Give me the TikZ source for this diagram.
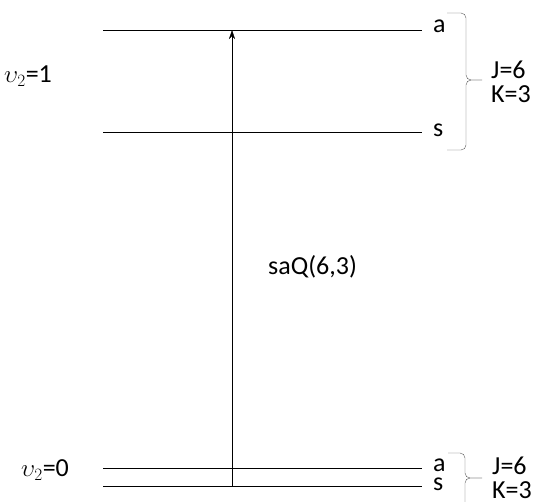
\documentclass[tikz,border=0pt]{standalone}
\usepackage{fontspec}
\setmainfont{Carlito}
\usetikzlibrary{arrows.meta}

\begin{document}
\begin{tikzpicture}[x=1pt,y=-1pt,font=\fontsize{26}{28}\selectfont]
\useasboundingbox (0,0) rectangle (535,501);
% levels
\foreach \y/\lab/\nm in {30/a/ua, 132/s/us, 468/a/la, 486/s/ls} {
  \coordinate (\nm-l) at (103,\y);
  \coordinate (\nm-r) at (422,\y);
  \coordinate (\nm-m) at (232,\y);
  \draw (\nm-l) -- (\nm-r);
}
\node[anchor=west, inner sep=0pt] (ua) at (433,26) {a};
\node[anchor=west, inner sep=0pt] (us) at (433,130) {s};
\node[anchor=west, inner sep=0pt] (la) at (433,465) {a};
\node[anchor=west, inner sep=0pt] (ls) at (433,484) {s};
\node[anchor=west, inner sep=0pt] (v1) at (4,76) {$\upsilon_2$=1};
\node[anchor=west, inner sep=0pt] (v0) at (21,470) {$\upsilon_2$=0};
% transition
\draw[-{Stealth[length=9pt,width=6pt]}] (ls-m) -- (ua-m);
\node[anchor=west, inner sep=0pt] (saq) at (268,267) {saQ(6,3)};
% braces
\draw[gray!70!black, rounded corners=5pt] (447,13) -| (466,80) -- (482,80);
\draw[gray!70!black, rounded corners=5pt] (482,80) -- (466,80) |- (447,150);
\draw[gray!70!black, rounded corners=5pt] (448,453) -| (465,478) -- (482,478);
\draw[gray!70!black, rounded corners=5pt] (482,478) -- (465,478) -- (465,510);
\node[anchor=west, inner sep=0pt] (j1) at (491,70) {J=6};
\node[anchor=west, inner sep=0pt] (k1) at (491,94) {K=3};
\node[anchor=west, inner sep=0pt] (j0) at (492,466) {J=6};
\node[anchor=west, inner sep=0pt] (k0) at (492,490) {K=3};
\end{tikzpicture}
\end{document}
